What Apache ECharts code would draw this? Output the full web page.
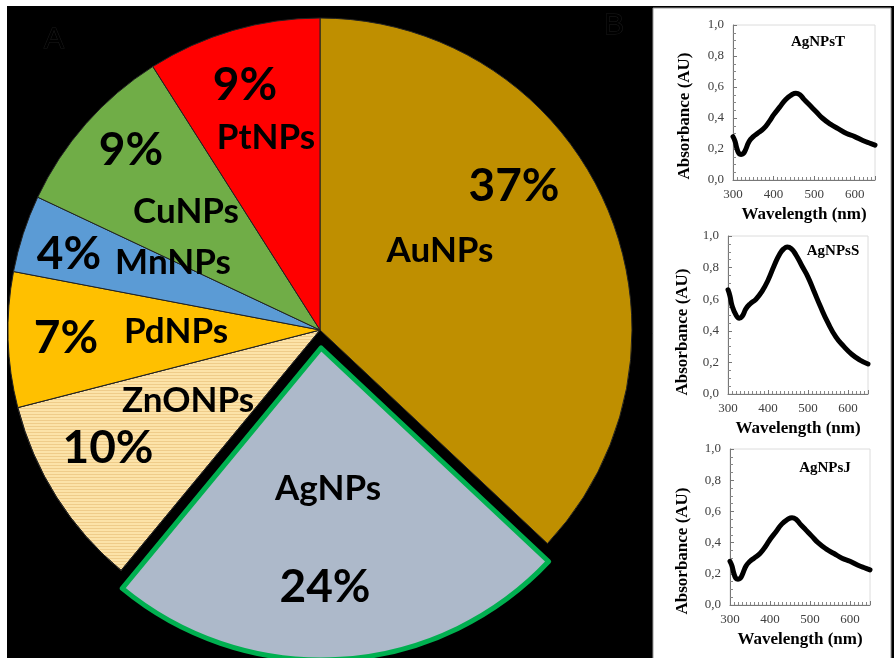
<!DOCTYPE html>
<html>
<head>
<meta charset="utf-8">
<script src="https://cdn.jsdelivr.net/npm/echarts@6/dist/echarts.min.js"></script>
<style>
html,body{margin:0;padding:0;background:#fff;}
#c{width:894px;height:658px;}
</style>
</head>
<body>
<div id="c"></div>
<script>
// ---- data ----
const categories = ['AuNPs','AgNPs','ZnONPs','PdNPs','MnNPs','CuNPs','PtNPs'];
const shares = [37,24,10,7,4,9,9];
const sliceColors = ['#BF8F00','#ADB9CA','#FCE3A9','#FFC000','#5B9BD5','#70AD47','#FF0000'];

const spectrumT_x = [300,305,310,315,320,325,330,340,350,360,375,390,400,415,430,445,455,465,475,490,505,520,540,560,580,600,620,640,650];
const spectrumT_y = [0.28,0.25,0.20,0.17,0.165,0.17,0.19,0.25,0.28,0.30,0.33,0.38,0.42,0.47,0.52,0.55,0.56,0.55,0.52,0.48,0.44,0.40,0.36,0.33,0.30,0.28,0.255,0.235,0.225];
const spectrumS_x = [300,305,310,320,328,335,345,355,370,385,400,415,430,440,448,458,470,485,500,515,530,550,570,590,610,630,650];
const spectrumS_y = [0.66,0.62,0.56,0.50,0.48,0.49,0.54,0.57,0.60,0.65,0.72,0.81,0.89,0.92,0.93,0.92,0.88,0.81,0.74,0.65,0.56,0.45,0.36,0.30,0.25,0.215,0.19];
const spectrumJ_x = [300,305,310,315,320,325,330,340,350,360,375,390,400,415,430,445,455,465,475,490,505,520,540,560,580,600,620,640,650];
const spectrumJ_y = [0.28,0.25,0.20,0.17,0.165,0.17,0.19,0.25,0.28,0.30,0.33,0.38,0.42,0.47,0.52,0.55,0.56,0.55,0.52,0.48,0.44,0.40,0.36,0.33,0.30,0.28,0.255,0.235,0.225];
const spectrumNames = ['AgNPsT','AgNPsS','AgNPsJ'];
const xTicks = [300,400,500,600];

// ---- layout (positions only) ----
const pctPos = [[514,186],[325,587],[108,448],[66,338],[69,254],[131,150],[245,85]];
const namePos = [[440,251],[328,489],[188,401],[176,332],[173,263],[186,212],[266,138]];
const grids = [
  {left:733, top:25, width:142, height:155},
  {left:728, top:236, width:140, height:158},
  {left:730, top:449, width:140, height:156}
];
const yTitlePos = [[685,116],[683,332],[683,551]];
const innerLabelPos = [[818,42],[833,251],[825,468]];

const chart = echarts.init(document.getElementById('c'), null, {renderer:'canvas'});

const pieData = categories.map((n,i)=>{
  const d = {name:n, value:shares[i], itemStyle:{color:sliceColors[i], borderColor:'#222', borderWidth:1}};
  if(n==='AgNPs'){ d.selected = true; d.itemStyle.borderColor = '#00B050'; d.itemStyle.borderWidth = 5; }
  if(n==='ZnONPs'){ d.itemStyle.decal = {symbol:'rect', symbolSize:1, color:'rgba(215,160,80,0.35)', dashArrayX:[1,0], dashArrayY:[1,2], rotation:0}; }
  return d;
});

const graphic = [
  {type:'rect', shape:{x:7,y:6,width:887,height:652}, style:{fill:'#000'}, z:-100, silent:true},
  {type:'rect', shape:{x:653,y:8,width:238,height:652}, style:{fill:'#fff', stroke:'#999', lineWidth:1}, z:-99, silent:true},
  {type:'text', style:{text:'A', x:54, y:40, font:'30px "Liberation Sans"', fill:'#000', stroke:'#1c1c1c', lineWidth:1, align:'center', verticalAlign:'middle'}, z:100},
  {type:'text', style:{text:'B', x:614, y:26, font:'30px "Liberation Sans"', fill:'#000', stroke:'#1c1c1c', lineWidth:1, align:'center', verticalAlign:'middle'}, z:100}
];
categories.forEach((n,i)=>{
  graphic.push({type:'text', z:100, silent:true, style:{text:shares[i]+'%', x:pctPos[i][0], y:pctPos[i][1], font:'bold 46px Lato', fill:'#000', align:'center', verticalAlign:'middle'}});
  graphic.push({type:'text', z:100, silent:true, style:{text:n, x:namePos[i][0], y:namePos[i][1], font:'bold 35px Lato', fill:'#000', align:'center', verticalAlign:'middle'}});
});
spectrumNames.forEach((n,i)=>{
  graphic.push({type:'text', z:100, silent:true, style:{text:n, x:innerLabelPos[i][0], y:innerLabelPos[i][1], font:'bold 15px "Liberation Serif"', fill:'#000', align:'center', verticalAlign:'middle'}});
  graphic.push({type:'text', z:100, silent:true, rotation:Math.PI/2, x:yTitlePos[i][0], y:yTitlePos[i][1], style:{text:'Absorbance (AU)', x:0, y:0, font:'bold 17px "Liberation Serif"', fill:'#000', align:'center', verticalAlign:'middle'}});
});

const spectra = [[spectrumT_x,spectrumT_y],[spectrumS_x,spectrumS_y],[spectrumJ_x,spectrumJ_y]];

const xAxes = grids.map((g,i)=>({
  type:'value', gridIndex:i, min:300, max:650, interval:100,
  name:'Wavelength (nm)', nameLocation:'middle', nameGap:26,
  nameTextStyle:{fontFamily:'Liberation Serif', fontWeight:'bold', fontSize:17, color:'#000'},
  axisLine:{show:true, lineStyle:{color:'#777', width:1}},
  axisTick:{show:true, inside:true, length:4, lineStyle:{color:'#777'}},
  minorTick:{show:true, splitNumber:10, length:3, lineStyle:{color:'#888'}},
  splitLine:{show:false},
  axisLabel:{fontFamily:'Liberation Serif', fontSize:13, color:'#404040', margin:8,
    formatter:v=> xTicks.indexOf(v)>=0 ? String(v) : ''}
}));
const yAxes = grids.map((g,i)=>({
  type:'value', gridIndex:i, min:0, max:1, interval:0.2,
  axisLine:{show:true, lineStyle:{color:'#777', width:1}},
  axisTick:{show:true, inside:true, length:4, lineStyle:{color:'#777'}},
  minorTick:{show:true, splitNumber:4, length:3, lineStyle:{color:'#888'}},
  splitLine:{show:false},
  axisLabel:{fontFamily:'Liberation Serif', fontSize:13, color:'#404040', margin:9,
    formatter:v=> v.toFixed(1).replace('.', ',')}
}));

const series = [{
  type:'pie', center:[320,330], radius:312, startAngle:90, clockwise:true,
  selectedMode:'single', selectedOffset:18, animation:false,
  label:{show:false}, labelLine:{show:false},
  emphasis:{disabled:true}, silent:true,
  data:pieData, z:2
}];
spectra.forEach((s,i)=>{
  series.push({type:'line', xAxisIndex:i, yAxisIndex:i, smooth:0.5, symbol:'none',
    lineStyle:{color:'#000', width:5, cap:'round', join:'round'}, animation:false, silent:true,
    data:s[0].map((x,k)=>[x,s[1][k]])});
});

chart.setOption({
  backgroundColor:'#fff',
  animation:false,
  graphic:graphic,
  grid:grids.map(g=>Object.assign({show:true, borderColor:'#dcdcdc', borderWidth:1, backgroundColor:'#fff', containLabel:false}, g)),
  xAxis:xAxes,
  yAxis:yAxes,
  series:series
});
</script>
</body>
</html>
